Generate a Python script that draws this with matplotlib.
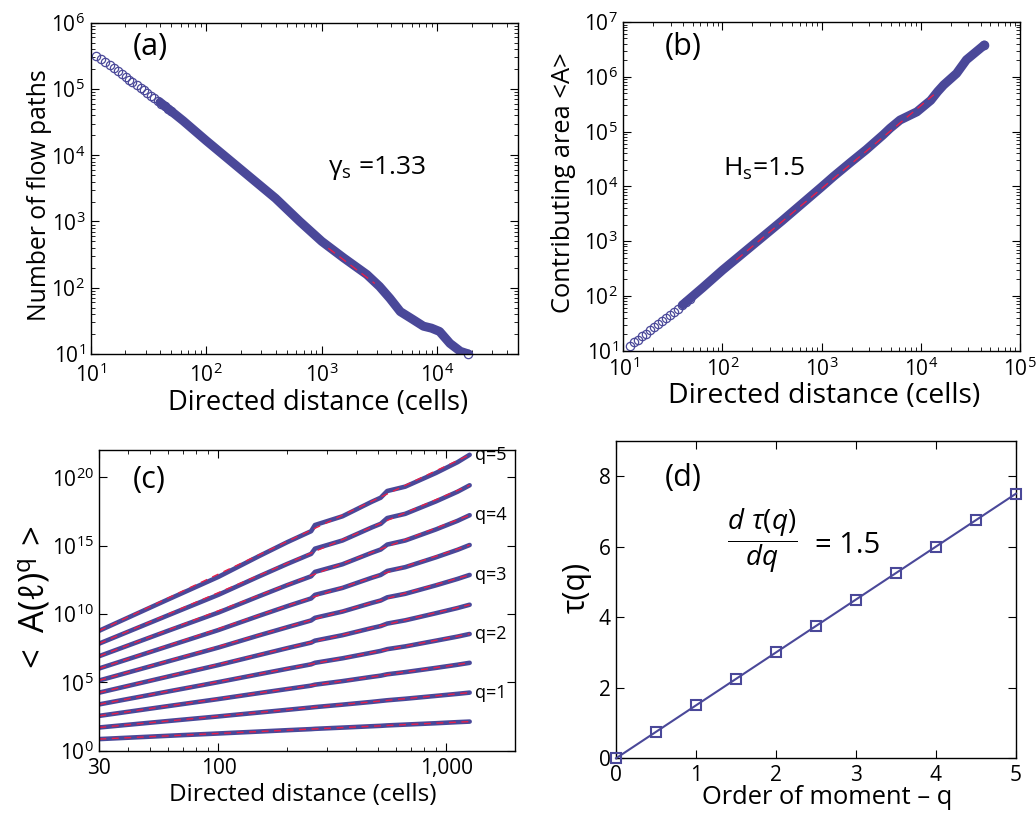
import numpy as np
import matplotlib
matplotlib.use('Agg')
import matplotlib.pyplot as plt
from matplotlib.ticker import (FixedLocator, FixedFormatter, NullFormatter,
                               LogLocator, NullLocator, LogFormatterMathtext)

plt.rcParams['font.family'] = ['Open Sans', 'DejaVu Sans']
plt.rcParams['mathtext.fontset'] = 'custom'
plt.rcParams['mathtext.rm'] = 'Open Sans'
plt.rcParams['mathtext.it'] = 'Open Sans:italic'
plt.rcParams['mathtext.bf'] = 'Open Sans:bold'

# ---------------- data ----------------
# (a) number of flow paths vs directed distance
a_sparse_dist = [11.2, 12.2, 13.3, 14.6, 16.0, 17.3, 18.8, 20.2, 21.6, 23.0,
                 25.0, 27.0, 29.0, 31.0, 33.0, 35.0, 38.0, 41.0, 44.0, 47.0, 50.0]
a_sparse_logn = [5.49, 5.45, 5.40, 5.36, 5.31, 5.27, 5.22, 5.18, 5.14, 5.11,
                 5.06, 5.02, 4.98, 4.94, 4.90, 4.87, 4.82, 4.78, 4.74, 4.70, 4.66]
a_dense_logd = [1.60, 1.80, 2.00, 2.20, 2.40, 2.60, 2.81, 3.00, 3.19, 3.39,
                3.50, 3.59, 3.68, 3.79, 3.88, 3.95, 4.02, 4.11, 4.20, 4.27]
a_dense_logn = [4.80, 4.52, 4.22, 3.93, 3.64, 3.35, 3.00, 2.70, 2.45, 2.20,
                2.02, 1.84, 1.64, 1.52, 1.42, 1.39, 1.34, 1.16, 1.04, 1.00]
a_fit_dist = [1140, 2880]
a_fit_n = [395, 116]

# (b) contributing area vs directed distance
b_sparse_logd = [1.07, 1.11, 1.15, 1.19, 1.23, 1.27, 1.31, 1.35, 1.39, 1.43,
                 1.47, 1.51, 1.55, 1.59, 1.63, 1.67]
b_sparse_loga = [1.09, 1.15, 1.20, 1.26, 1.31, 1.37, 1.43, 1.49, 1.54, 1.60,
                 1.66, 1.71, 1.77, 1.83, 1.89, 1.95]
b_dense_logd = [1.60, 1.80, 2.00, 2.20, 2.40, 2.60, 2.80, 3.00, 3.12, 3.30,
                3.45, 3.62, 3.69, 3.79, 3.96, 4.10, 4.17, 4.23, 4.36, 4.46,
                4.56, 4.64]
b_dense_loga = [1.84, 2.15, 2.47, 2.77, 3.07, 3.37, 3.68, 3.99, 4.18, 4.45,
                4.67, 4.94, 5.06, 5.21, 5.36, 5.57, 5.73, 5.85, 6.06, 6.31,
                6.46, 6.58]
b_fit_dist = [138, 13500]
b_fit_area = [455, 4.7e5]

# (c) moments <A(l)^q>, log10 values at these distances
c_dist = [30, 60, 100, 150, 200, 255, 265, 350, 470, 515, 550, 660, 900, 1120, 1265]
logA_q05 = [0.85, 1.09, 1.26, 1.40, 1.50, 1.58, 1.60, 1.69, 1.79, 1.82, 1.85, 1.91, 2.01, 2.09, 2.13]
logA_q10 = [1.70, 2.17, 2.51, 2.79, 2.99, 3.16, 3.19, 3.37, 3.57, 3.64, 3.69, 3.80, 4.01, 4.16, 4.25]
logA_q15 = [2.55, 3.26, 3.78, 4.21, 4.51, 4.76, 4.83, 5.09, 5.40, 5.49, 5.59, 5.75, 6.06, 6.29, 6.43]
logA_q20 = [3.39, 4.33, 5.02, 5.59, 5.99, 6.32, 6.43, 6.76, 7.17, 7.30, 7.43, 7.63, 8.05, 8.35, 8.54]
logA_q25 = [4.25, 5.42, 6.27, 6.99, 7.50, 7.91, 8.05, 8.45, 8.97, 9.12, 9.30, 9.54, 10.06, 10.44, 10.68]
logA_q30 = [5.14, 6.53, 7.55, 8.43, 9.03, 9.53, 9.72, 10.18, 10.81, 10.99, 11.22, 11.48, 12.10, 12.57, 12.86]
logA_q35 = [6.02, 7.64, 8.83, 9.86, 10.57, 11.14, 11.40, 11.91, 12.65, 12.86, 13.15, 13.43, 14.15, 14.70, 15.05]
logA_q40 = [6.92, 8.77, 10.11, 11.29, 12.11, 12.76, 13.08, 13.64, 14.48, 14.72, 15.08, 15.38, 16.19, 16.82, 17.23]
logA_q45 = [7.84, 9.90, 11.41, 12.74, 13.66, 14.40, 14.78, 15.38, 16.33, 16.60, 17.02, 17.33, 18.24, 18.95, 19.42]
logA_q50 = [8.78, 11.06, 12.72, 14.22, 15.25, 16.06, 16.51, 17.15, 18.21, 18.51, 19.00, 19.32, 20.32, 21.11, 21.65]
c_fit_dist = [30, 1265]
c_labels = ['q=1', 'q=2', 'q=3', 'q=4', 'q=5']

# (d) tau(q)
d_q = [0, 0.5, 1, 1.5, 2, 2.5, 3, 3.5, 4, 4.5, 5]
d_tau = [0, 0.75, 1.5, 2.25, 3.0, 3.75, 4.5, 5.25, 6.0, 6.75, 7.5]

# ---------------- style ----------------
BLUE = '#4a4899'
RED = '#e8204a'
W, H = 1036, 813
fig = plt.figure(figsize=(W / 100, H / 100), dpi=100)


def rect(l, t, r, b):
    return [l / W, 1 - b / H, (r - l) / W, (b - t) / H]


def ftext(px, py, s, **kw):
    fig.text(px / W, 1 - py / H, s, **kw)


def style(ax, tick_fs=15, xpad=5):
    ax.tick_params(which='both', direction='in', top=True, right=True,
                   labelsize=tick_fs)
    ax.tick_params(axis='x', which='both', pad=xpad)
    ax.tick_params(axis='y', which='both', pad=4)
    ax.tick_params(which='major', length=6, width=0.8)
    ax.tick_params(which='minor', length=3, width=0.6)
    for s in ax.spines.values():
        s.set_linewidth(1.0)


def logaxes(ax):
    ax.set_xscale('log')
    ax.set_yscale('log')
    for axis in (ax.xaxis, ax.yaxis):
        axis.set_major_locator(LogLocator(base=10, numticks=20))
        axis.set_minor_locator(LogLocator(base=10, subs=np.arange(2, 10), numticks=20))
        axis.set_major_formatter(LogFormatterMathtext())
        axis.set_minor_formatter(NullFormatter())


# ---------------- (a) ----------------
ax = fig.add_axes(rect(90.7, 22.7, 518, 354))
logaxes(ax)
ax.plot(a_sparse_dist, 10 ** np.array(a_sparse_logn), 'o', mfc='none', mec=BLUE,
        ms=6, mew=0.9)
ax.plot(10 ** np.array(a_dense_logd), 10 ** np.array(a_dense_logn), '-', color=BLUE,
        lw=6.5, solid_capstyle='round', solid_joinstyle='round')
ax.plot([10 ** a_dense_logd[-1]], [10 ** a_dense_logn[-1]], 'o', mfc='none', mec=BLUE,
        ms=6, mew=0.9, clip_on=False)
ax.plot(a_fit_dist, a_fit_n, '--', color=RED, lw=1.0, dashes=(6, 4))
ax.set_xlim(10, 5e4)
ax.set_ylim(10, 1e6)
style(ax, xpad=7)
ftext(133, 46.5, '(a)', fontsize=22, ha='left', va='center')
ftext(328, 174, r'$\mathregular{\gamma_s}$ =1.33', fontsize=19, ha='left', va='baseline')
ftext(40, 195, 'Number of flow paths', fontsize=17.8, rotation=90, ha='center', va='center')
ftext(318, 410, 'Directed distance (cells)', fontsize=19.6, ha='center', va='baseline')

# ---------------- (b) ----------------
ax = fig.add_axes(rect(623.3, 22, 1020, 350.7))
logaxes(ax)
ax.plot(10 ** np.array(b_sparse_logd), 10 ** np.array(b_sparse_loga), 'o', mfc='none',
        mec=BLUE, ms=6, mew=0.9)
ax.plot(10 ** np.array(b_dense_logd), 10 ** np.array(b_dense_loga), '-', color=BLUE,
        lw=6.5, solid_capstyle='round', solid_joinstyle='round')
ax.plot([10 ** b_dense_logd[-1]], [10 ** b_dense_loga[-1]], 'o', mfc='none', mec=BLUE,
        ms=6, mew=0.9)
ax.plot(b_fit_dist, b_fit_area, '--', color=RED, lw=1.0, dashes=(6, 4))
ax.set_xlim(10, 1e5)
ax.set_ylim(10, 1e7)
style(ax, xpad=5)
ftext(665, 46.5, '(b)', fontsize=22, ha='left', va='center')
ftext(723, 176, r'H$\mathregular{_s}$=1.5', fontsize=19, ha='left', va='baseline')
ftext(563, 183, 'Contributing area <A>', fontsize=18.4, rotation=90, ha='center', va='center')
ftext(824, 403, 'Directed distance (cells)', fontsize=20.4, ha='center', va='baseline')

# ---------------- (c) ----------------
ax = fig.add_axes(rect(99.3, 450, 515, 750.7))
ax.set_xscale('log')
ax.set_yscale('log')
curves = [logA_q05, logA_q10, logA_q15, logA_q20, logA_q25,
          logA_q30, logA_q35, logA_q40, logA_q45, logA_q50]
for cv in curves:
    ax.plot(c_dist, 10 ** np.array(cv), '-', color=BLUE, lw=3.3,
            solid_capstyle='round', solid_joinstyle='round')
for cv in curves:
    ax.plot(c_fit_dist, [10 ** cv[0], 10 ** cv[-1]], '--', color=RED, lw=1.0, dashes=(5, 4))
for lab, cv in zip(c_labels, curves[1::2]):
    ax.text(1330, 10 ** cv[-1], lab, fontsize=13, ha='left', va='center')
ax.set_xlim(30, 2000)
ax.set_ylim(1, 1e22)
ax.xaxis.set_major_locator(FixedLocator([30, 100, 1000]))
ax.xaxis.set_major_formatter(FixedFormatter(['30', '100', '1,000']))
ax.xaxis.set_minor_locator(LogLocator(base=10, subs=np.arange(2, 10), numticks=20))
ax.xaxis.set_minor_formatter(NullFormatter())
ax.yaxis.set_major_locator(FixedLocator([1e0, 1e5, 1e10, 1e15, 1e20]))
ax.yaxis.set_major_formatter(LogFormatterMathtext())
ax.yaxis.set_minor_locator(NullLocator())
style(ax)
ftext(133, 480, '(c)', fontsize=22, ha='left', va='center')
ftext(35, 600, r'$<\ \mathregular{A}(\ell)^\mathregular{q}\,>$', fontsize=25,
      rotation=90, ha='center', va='center')
ftext(303, 801, 'Directed distance (cells)', fontsize=17.5, ha='center', va='baseline')

# ---------------- (d) ----------------
ax = fig.add_axes(rect(616, 440.7, 1016, 758.3))
ax.plot(d_q, d_tau, '-s', color=BLUE, lw=1.5, ms=7.5, mfc='none', mew=1.5, clip_on=False,
        zorder=3)
ax.set_xlim(0, 5)
ax.set_ylim(0, 9)
ax.set_xticks([0, 1, 2, 3, 4, 5])
ax.set_yticks([0, 2, 4, 6, 8])
style(ax)
ftext(665, 478, '(d)', fontsize=22, ha='left', va='center')
ftext(727, 541, r'$\dfrac{d\ \tau(q)}{dq}$', fontsize=20, ha='left', va='center')
ftext(815, 545, '= 1.5', fontsize=21, ha='left', va='center')
ftext(577, 587, 'τ(q)', fontsize=22, rotation=90, ha='center', va='center')
ftext(827, 804, 'Order of moment – q', fontsize=18.4, ha='center', va='baseline')

fig.savefig('out.png', dpi=100)
